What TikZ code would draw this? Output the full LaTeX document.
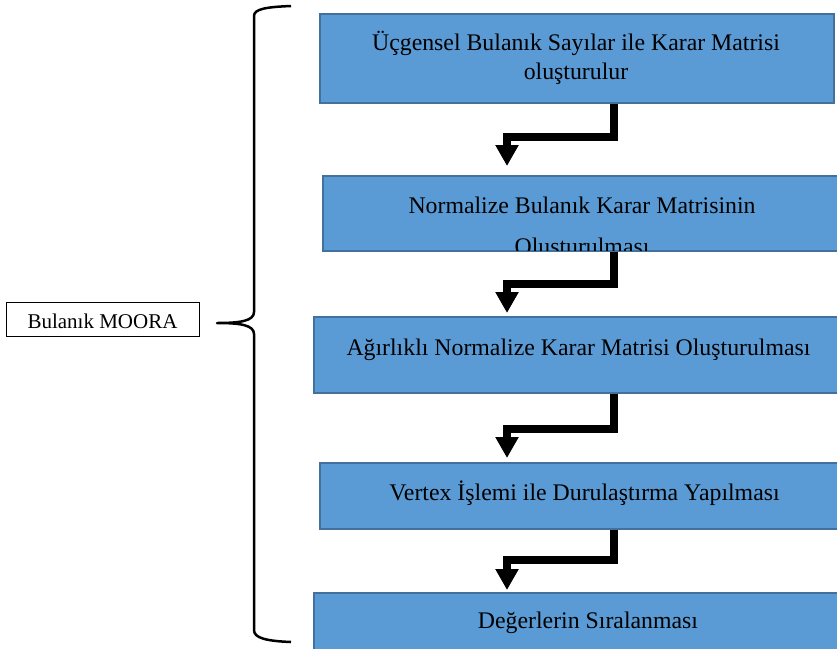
\documentclass[tikz,border=0pt]{standalone}
\usepackage{fontspec}
\setmainfont{Liberation Serif}
\usetikzlibrary{arrows.meta,calc}
\definecolor{boxfill}{HTML}{5B9BD5}
\definecolor{boxline}{HTML}{41719C}
\begin{document}
\begin{tikzpicture}[x=1pt,y=-1pt,
  stepbox/.style={draw=boxline, fill=boxfill, line width=2pt, inner sep=0pt, anchor=north west},
  boxtext/.style={font=\fontsize{23.8}{29}\selectfont, inner sep=0pt, anchor=base},
  flowarrow/.style={line width=7.5pt, -{Triangle[length=21pt,width=22pt]}},
  bracestyle/.style={line width=2.5pt, line join=round}]
\useasboundingbox (0,0) rectangle (837,648);
\fill[white] (0,0) rectangle (837,648);
% boxes
\node[stepbox, minimum width=514pt, minimum height=89pt] (b1) at (319,13) {};
\node[stepbox, minimum width=530pt, minimum height=75pt] (b2) at (322,175) {};
\node[stepbox, minimum width=540pt, minimum height=76pt] (b3) at (313,316) {};
\node[stepbox, minimum width=540pt, minimum height=66pt] (b4) at (319,462) {};
\node[stepbox, minimum width=540pt, minimum height=70pt] (b5) at (313,592) {};
% texts
\node[boxtext] (t1a) at (576,50) {Üçgensel Bulanık Sayılar ile Karar Matrisi};
\node[boxtext] (t1b) at (576,79) {oluşturulur};
\node[boxtext] (t2a) at (582,213) {Normalize Bulanık Karar Matrisinin};
\begin{scope}
  \clip ([shift={(2pt,-2pt)}]b2.north west) rectangle ([shift={(-2pt,2pt)}]b2.south east);
  \node[boxtext] (t2b) at (582,254) {Oluşturulması};
\end{scope}
\node[boxtext] (t3) at (578.5,355) {Ağırlıklı Normalize Karar Matrisi Oluşturulması};
\node[boxtext] (t4) at (584.5,500) {Vertex İşlemi ile Durulaştırma Yapılması};
\node[boxtext] (t5) at (588,628) {Değerlerin Sıralanması};
% arrows
\coordinate (xr) at (614,0);
\coordinate (xl) at (507,0);
\draw[flowarrow] (b1.south -| xr) -- ++(0,33) -| ([yshift=9pt]b2.north -| xl);
\draw[flowarrow] (b2.south -| xr) -- ++(0,32) -| ([yshift=3pt]b3.north -| xl);
\draw[flowarrow] (b3.south -| xr) -- ++(0,35) -| ([yshift=4pt]b4.north -| xl);
\draw[flowarrow] (b4.south -| xr) -- ++(0,30) -| ([yshift=2pt]b5.north -| xl);
% left box
\node[draw, line width=0.7pt, minimum width=193pt, minimum height=34pt, inner sep=0pt, anchor=north west] (lb) at (6,302) {};
\node[font=\fontsize{21}{25}\selectfont, inner sep=0pt, anchor=base] (lbt) at (102.5,328) {Bulanık MOORA};
% brace
\draw[bracestyle] (291,6) .. controls (266,7) and (254,9) .. (254,16)
  -- (254,312) .. controls (254,321) and (240,323) .. (217,323)
  .. controls (240,323) and (254,325) .. (254,334)
  -- (254,630) .. controls (254,638) and (266,641) .. (291,642);
\end{tikzpicture}
\end{document}
